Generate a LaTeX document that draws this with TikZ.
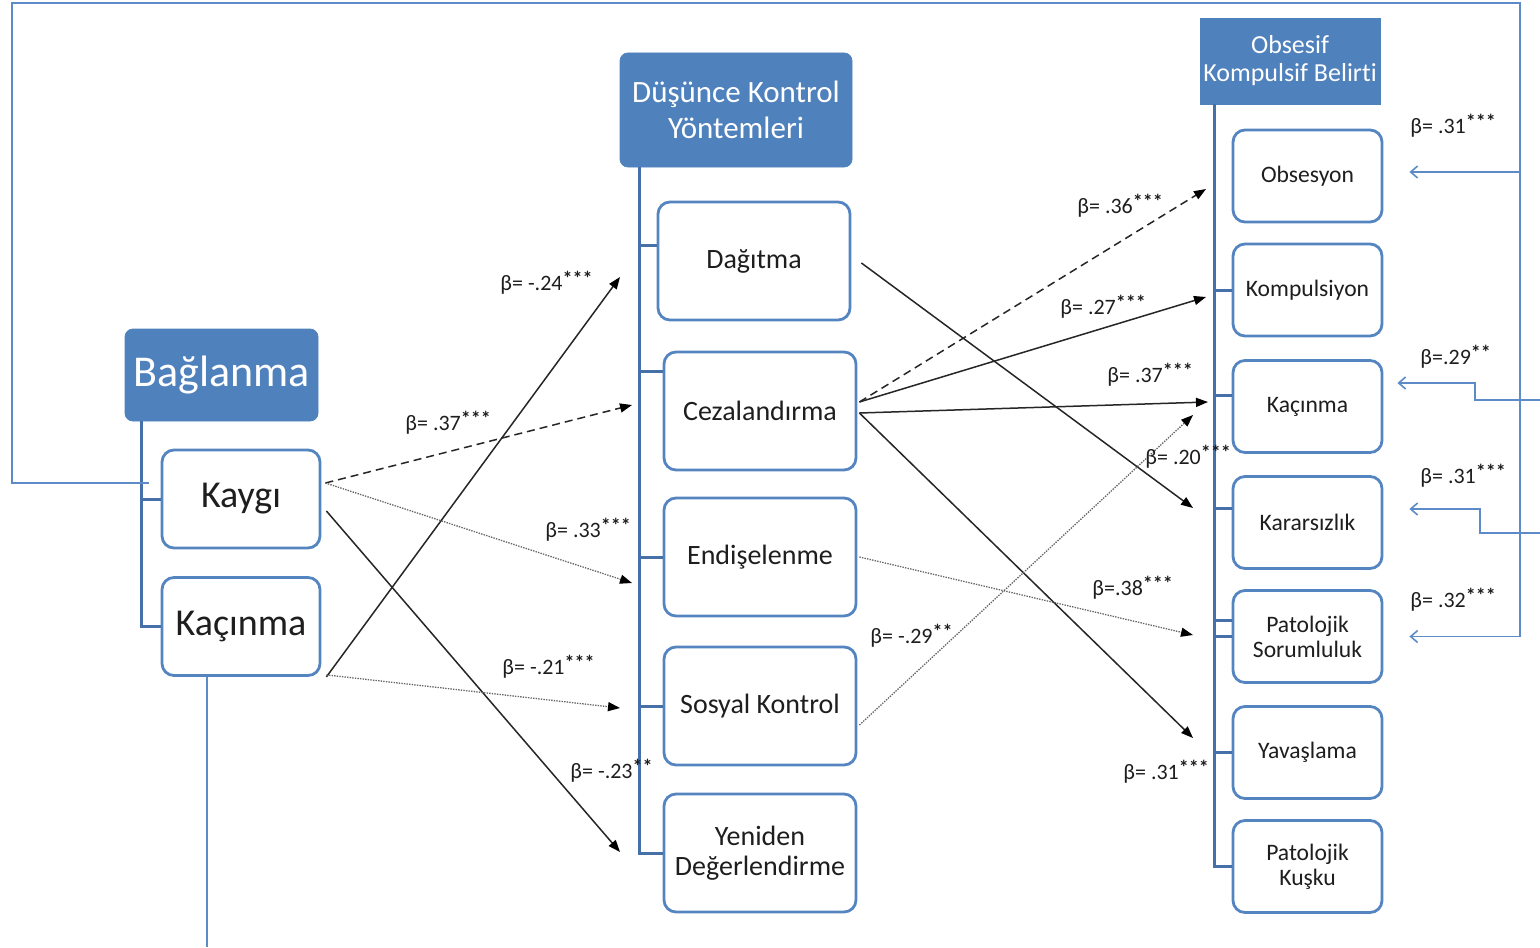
\documentclass[tikz,border=0pt]{standalone}
\usepackage{fontspec}
\setmainfont{Carlito}[Ligatures=NoCommon]
\usetikzlibrary{arrows.meta}
\definecolor{hdrblue}{HTML}{4F81BD}
\definecolor{boxblue}{HTML}{5585C0}
\definecolor{brblue}{HTML}{4670A8}
\definecolor{loopblue}{HTML}{5D8BC8}
\definecolor{txt}{HTML}{1E1E1E}
% significance stars, raised and heavy
\newcommand{\sig}[1]{\raisebox{0.5ex}{\fontsize{10pt}{10pt}\selectfont\bfseries #1}}
\tikzset{
  hdr/.style={fill=hdrblue, draw=hdrblue, rounded corners=4pt, text=white, align=center, inner sep=0pt},
  box/.style={draw=boxblue, line width=1.4pt, fill=white, rounded corners=6pt, align=center, inner sep=0pt, text=txt},
  leftbox/.style={box, minimum width=79pt, minimum height=49pt, font=\fontsize{19pt}{22pt}\selectfont},
  midbox/.style={box, minimum width=96pt, minimum height=59pt, font=\fontsize{14pt}{15pt}\selectfont},
  rbox/.style={box, minimum width=74.5pt, minimum height=46pt, font=\fontsize{11.8pt}{12.5pt}\selectfont},
  bracket/.style={draw=brblue, line width=1.5pt},
  loopline/.style={draw=loopblue, line width=0.8pt},
  looparrow/.style={loopline, -{Straight Barb[length=3.5pt,width=6pt]}},
  tip/.style={-{Triangle[length=6pt,width=4.5pt,color=black]}},
  solidarr/.style={tip, line width=0.75pt, draw=black!85},
  dasharr/.style={tip, line width=0.75pt, draw=black!85, dash pattern=on 4pt off 2.5pt},
  dotarr/.style={tip, line width=0.65pt, draw=black!60, dash pattern=on 0.7pt off 0.6pt},
  coef/.style={anchor=west, inner sep=0pt, font=\fontsize{11pt}{13pt}\selectfont, text=txt},
}
\begin{document}
\begin{tikzpicture}[x=0.5pt,y=-0.5pt]
\useasboundingbox (0,0) rectangle (1540,947);

% ---- attachment styles
\node[hdr, minimum width=96.5pt, minimum height=46pt, font=\fontsize{22pt}{26pt}\selectfont] (bag) at (221.5,375) {Bağlanma};
\node[leftbox] (kaygi) at (241,499) {Kaygı};
\node[leftbox] (kacL) at (241,626.5) {Kaçınma};

% ---- thought control strategies
\node[hdr, minimum width=116pt, minimum height=57pt, font=\fontsize{15.5pt}{18pt}\selectfont] (dkh) at (736,110) {Düşünce Kontrol\\Yöntemleri};
\node[midbox] (dag) at (754,261) {Dağıtma};
\node[midbox] (cez) at (760,411) {Cezalandırma};
\node[midbox] (endi) at (760,557) {Endişelenme};
\node[midbox] (sos) at (760,706) {Sosyal Kontrol};
\node[midbox] (yen) at (760,853) {Yeniden\\Değerlendirme};

% ---- obsessive-compulsive symptoms
\node[hdr, rounded corners=0pt, minimum width=90pt, minimum height=43pt, font=\fontsize{13pt}{14pt}\selectfont] (okh) at (1290,61) {Obsesif\\Kompulsif Belirti};
\node[rbox] (obs) at (1307.5,176) {Obsesyon};
\node[rbox] (komp) at (1307.5,290) {Kompulsiyon};
\node[rbox] (kacR) at (1307.5,406.5) {Kaçınma};
\node[rbox] (kar) at (1307.5,522.5) {Kararsızlık};
\node[rbox] (psor) at (1307.5,636.5) {Patolojik\\Sorumluluk};
\node[rbox] (yav) at (1307.5,752.5) {Yavaşlama};
\node[rbox] (kusku) at (1307.5,866.5) {Patolojik\\Kuşku};

% ---- brackets
\draw[bracket] ([xshift=8.5pt]bag.south west) |- (kaygi.west);
\draw[bracket] ([xshift=8.5pt]bag.south west) |- (kacL.west);

\draw[bracket] ([xshift=10pt]dkh.south west) |- ([yshift=8pt]dag.west);
\draw[bracket] ([xshift=10pt]dkh.south west) |- ([yshift=20pt]cez.west);
\draw[bracket] ([xshift=10pt]dkh.south west) |- (endi.west);
\draw[bracket] ([xshift=10pt]dkh.south west) |- (sos.west);
\draw[bracket] ([xshift=10pt]dkh.south west) |- (yen.west);

\draw[bracket] ([xshift=7.5pt]okh.south west) |- (komp.west);
\draw[bracket] ([xshift=7.5pt]okh.south west) |- ([yshift=5.75pt]kacR.west);
\draw[bracket] ([xshift=7.5pt]okh.south west) |- ([yshift=7.25pt]kar.west);
\draw[bracket] ([xshift=7.5pt]okh.south west) |- ([yshift=8pt]psor.west);
\draw[bracket] ([xshift=7.5pt]okh.south west) |- (psor.west);
\draw[bracket] ([xshift=7.5pt]okh.south west) |- (yav.west);
\draw[bracket] ([xshift=7.5pt]okh.south west) |- (kusku.west);

% ---- direct paths from attachment to symptoms
\coordinate (lpTL) at (12,3);
\coordinate (lpTR) at (1520,3);
\coordinate (rimA) at (1540,400);
\coordinate (rimB) at (1540,533);
\coordinate (rimC) at (207,947);
\coordinate (obsIn) at ([xshift=13pt,yshift=2pt]obs.east);
\draw[looparrow] ([xshift=-6pt,yshift=8pt]kaygi.west) -| (lpTL) -- (lpTR) |- ([xshift=13pt]psor.east);
\draw[looparrow] (lpTR |- obsIn) -- (obsIn);
\draw[looparrow] (rimA) -- ++(-65,0) |- ([xshift=7pt,yshift=11.75pt]kacR.east);
\draw[looparrow] (rimB) -- ++(-60,0) |- ([xshift=13pt,yshift=6.75pt]kar.east);
\draw[loopline] ([xshift=-17pt]kacL.south) -- (rimC);

% ---- attachment -> thought control
\coordinate (a1) at (620,277);
\coordinate (a2) at (632,405);
\coordinate (a3) at (632,583);
\coordinate (a4) at (620,852);
\coordinate (a5) at (620,708);
\draw[solidarr] ([xshift=2.5pt]kacL.south east) -- (a1);
\draw[dasharr] ([xshift=2pt,yshift=8pt]kaygi.east) -- (a2);
\draw[dotarr] ([xshift=2pt,yshift=8pt]kaygi.east) -- (a3);
\draw[solidarr] ([xshift=2.5pt,yshift=-6pt]kaygi.east) -- (a4);
\draw[dotarr] ([xshift=2.5pt,yshift=1pt]kacL.south east) -- (a5);

% ---- thought control -> symptoms
\coordinate (b1) at (1206,189);
\coordinate (b2) at (1206,297);
\coordinate (b3) at (1208,402);
\coordinate (b4) at (1193,508);
\coordinate (b5) at (1193,738);
\coordinate (b6) at (1193,635);
\coordinate (b7) at (1193,415);
\draw[dasharr] ([xshift=1pt,yshift=4.5pt]cez.east) -- (b1);
\draw[solidarr] ([xshift=1pt,yshift=4.5pt]cez.east) -- (b2);
\draw[solidarr] ([xshift=1pt,yshift=-1pt]cez.east) -- (b3);
\draw[solidarr] ([xshift=5pt,yshift=-1pt]dag.east) -- (b4);
\draw[solidarr] ([xshift=1pt,yshift=-1pt]cez.east) -- (b5);
\draw[dotarr] ([xshift=1pt]endi.east) -- (b6);
\draw[dotarr] ([xshift=1pt,yshift=-9.5pt]sos.east) -- (b7);

% ---- coefficients
\node[coef] (c1) at (500,283) {β= -.24\sig{***}};
\node[coef] (c2) at (405,423) {β= .37\sig{***}};
\node[coef] (c3) at (545,530) {β= .33\sig{***}};
\node[coef] (c4) at (502,667) {β= -.21\sig{***}};
\node[coef] (c5) at (570,771) {β= -.23\sig{**}};
\node[coef] (c6) at (1077,206) {β= .36\sig{***}};
\node[coef] (c7) at (1060,307) {β= .27\sig{***}};
\node[coef] (c8) at (1107,375) {β= .37\sig{***}};
\node[coef] (c9) at (1145,457) {β= .20\sig{***}};
\node[coef] (c10) at (1092,588) {β=.38\sig{***}};
\node[coef] (c11) at (870,636) {β= -.29\sig{**}};
\node[coef] (c12) at (1123,772) {β= .31\sig{***}};
\node[coef] (c13) at (1410,126) {β= .31\sig{***}};
\node[coef] (c14) at (1420,357) {β=.29\sig{**}};
\node[coef] (c15) at (1420,476) {β= .31\sig{***}};
\node[coef] (c16) at (1410,600) {β= .32\sig{***}};
\end{tikzpicture}
\end{document}
